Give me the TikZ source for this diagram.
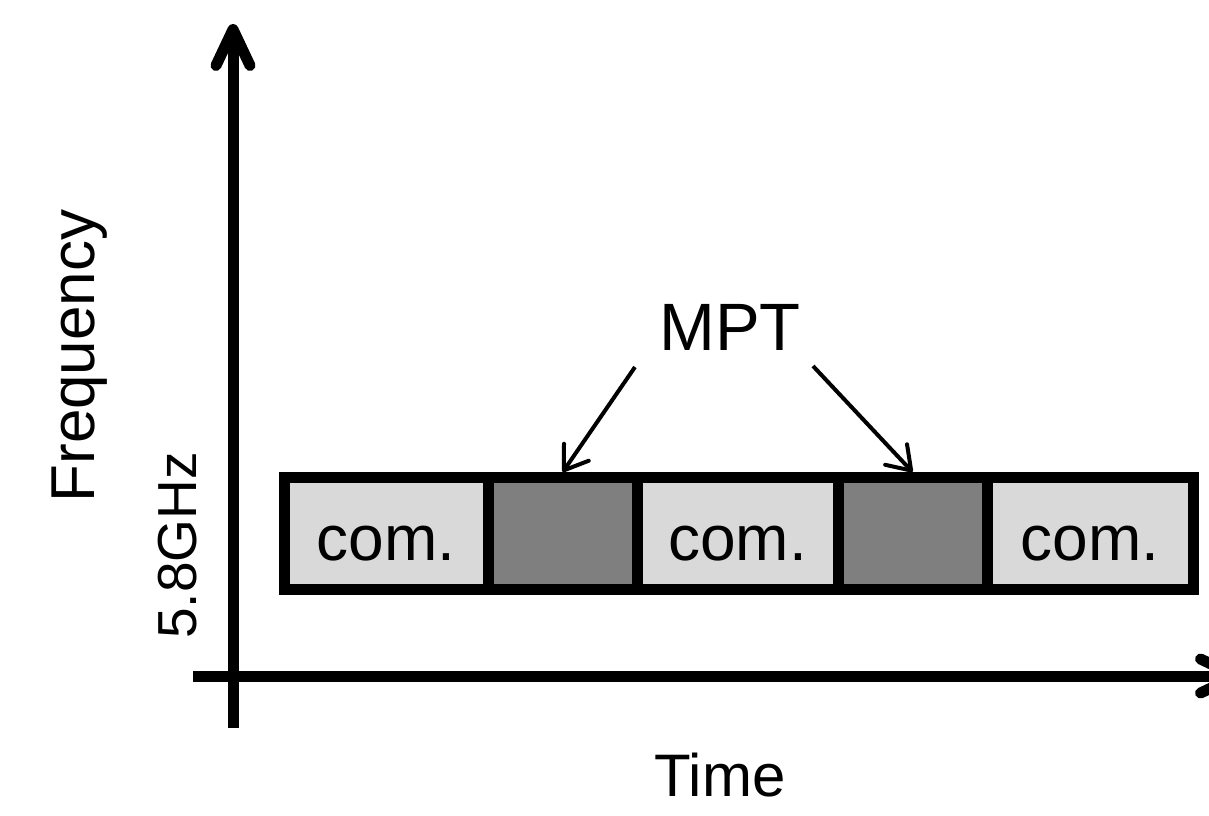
\documentclass[tikz,border=0pt]{standalone}
\usepackage{fontspec}
\setmainfont{Liberation Sans}
\usetikzlibrary{arrows.meta}
\definecolor{lightcell}{HTML}{D9D9D9}
\definecolor{darkcell}{HTML}{7F7F7F}
\begin{document}
\begin{tikzpicture}[x=1pt,y=-1pt,
  cell/.style={draw=black, line width=11pt, inner sep=0pt, minimum height=111.5pt},
  comcell/.style={cell, fill=lightcell, font=\fontsize{64}{64}\selectfont, text height=54pt, text depth=0pt},
  mptcell/.style={cell, fill=darkcell},
  axisline/.style={line width=11pt, -{Straight Barb[length=36pt,width=34pt,round]}},
  pointer/.style={line width=4pt, -{Straight Barb[length=22pt,width=30pt,round]}},
  lbl/.style={inner sep=0pt}]
\useasboundingbox (0,0) rectangle (1209,815);
% axes
\coordinate (yb) at (233,728);
\coordinate (yt) at (233,24);
\coordinate (xl) at (193,676);
\coordinate (xr) at (1242,676);
\draw[axisline] (yb) -- (yt);
\draw[axisline] (xl) -- (xr);
% cells
\node[comcell, minimum width=204.5pt] (c1) at (386.25,533.25) {com.};
\node[mptcell, minimum width=148.5pt] (d1) at (562.75,533.25) {};
\node[comcell, minimum width=201pt] (c2) at (737.5,533.25) {com.};
\node[mptcell, minimum width=149pt] (d2) at (912.5,533.25) {};
\node[comcell, minimum width=206.5pt] (c3) at (1090.25,533.25) {com.};
% labels
\node[lbl, font=\fontsize{67}{67}\selectfont] (mpt) at (730,327.5) {MPT};
\node[lbl, font=\fontsize{62}{62}\selectfont, rotate=90] (freq) at (79.5,356) {Frequency};
\node[lbl, font=\fontsize{55}{55}\selectfont, rotate=90] (ghz) at (177.5,545.5) {5.8GHz};
\node[lbl, font=\fontsize{60}{60}\selectfont] (time) at (720,775) {Time};
% pointers
\coordinate (p1) at (635,367);
\coordinate (p2) at (813,366);
\draw[pointer] (p1) -- (d1.north);
\draw[pointer] (p2) -- (d2.north);
\end{tikzpicture}
\end{document}
